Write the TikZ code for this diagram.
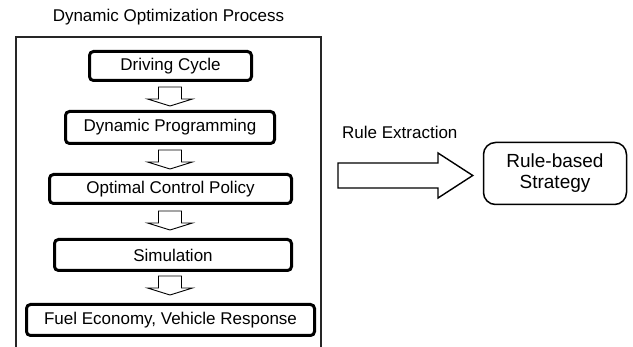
\documentclass[tikz,border=0pt]{standalone}
\usepackage{fontspec}
\setmainfont{Liberation Sans}
\usetikzlibrary{calc}

\tikzset{
  stepbox/.style={draw=black, line width=3pt, rounded corners=4pt, fill=white,
    inner sep=0pt, font=\fontsize{17}{20}\selectfont, align=center},
  hollowdown/.style={draw=black, line width=0.9pt, fill=white, line join=miter},
  hollowright/.style={draw=black, line width=1.4pt, fill=white, line join=miter},
  stratbox/.style={draw=black, line width=1.5pt, rounded corners=12pt, inner sep=0pt,
    font=\fontsize{19}{21}\selectfont, align=center},
  frameline/.style={draw=black!85, line width=1.8pt},
  caption/.style={inner sep=0pt, font=\fontsize{17}{20}\selectfont}
}

% hollow downward block arrow whose top centre is #1
\newcommand\blockdown[1]{%
  \draw[hollowdown] (#1) +(-11.5,0) -- +(-11.5,12) -- +(-22.5,12) -- +(0,19)
    -- +(22.5,12) -- +(11.5,12) -- +(11.5,0) -- cycle;}

\begin{document}
\begin{tikzpicture}[x=1pt, y=-1pt]
  \useasboundingbox (0,0) rectangle (633,347);

  % title and frame of the optimization process (open at the bottom)
  \node[caption] (title) at (168.5,17) {Dynamic Optimization Process};
  \draw[frameline] (16,348) -- (16,37) -- (321,37) -- (321,348);

  % process steps
  \node[stepbox, minimum width=162pt, minimum height=29pt] (b1) at (170.5,66) {Driving Cycle};
  \node[stepbox, minimum width=209pt, minimum height=32pt] (b2) at (170,127.5) {Dynamic Programming};
  \node[stepbox, minimum width=242pt, minimum height=29pt] (b3) at (170.5,189) {Optimal Control Policy};
  \node[stepbox, minimum width=237pt, minimum height=31pt] (b4) at (173,255) {Simulation};
  \node[stepbox, minimum width=288pt, minimum height=31pt] (b5) at (170.5,320) {Fuel Economy, Vehicle Response};

  % hollow arrows between the steps
  \coordinate (t1) at ($(b1.south)+(-0.5,5)$);
  \coordinate (t2) at ($(b2.south)+(0,5)$);
  \coordinate (t3) at ($(b3.south)+(-0.5,6)$);
  \coordinate (t4) at ($(b4.south)+(-3,4)$);
  \blockdown{t1}
  \blockdown{t2}
  \blockdown{t3}
  \blockdown{t4}

  % rule-based strategy and extraction arrow
  \node[stratbox, minimum width=143pt, minimum height=62pt] (rs) at (555,173.5) {Rule-based\\Strategy};
  \coordinate (ea) at (338,175.5);
  \coordinate (eb) at ($(rs.west)+(-10,2)$);
  \draw[hollowright] (ea) -- ++(0,-12.5) -- ++(100,0) -- ++(0,-10)
    -- (eb) -- ($(ea)+(100,22.5)$) -- ++(0,-10) -- ++(-100,0) -- cycle;
  \node[caption, anchor=west] (re) at (342,132) {Rule Extraction};
\end{tikzpicture}
\end{document}
